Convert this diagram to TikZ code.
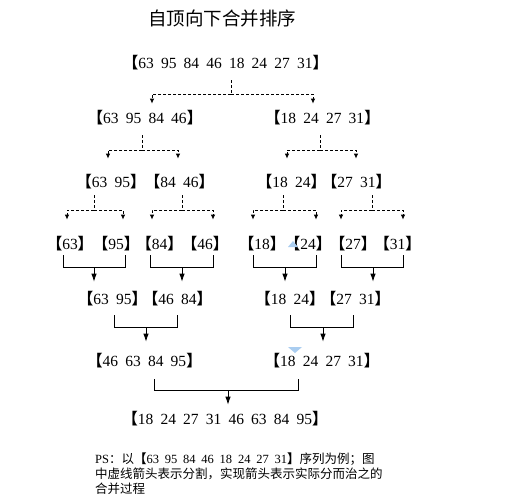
\documentclass[tikz,border=0pt]{standalone}
\usepackage{fontspec}
\setmainfont{Liberation Serif}
\newfontfamily\numf[WordSpace=1.85]{Liberation Serif}
\newfontfamily\cjk{Noto Sans CJK SC}
\usetikzlibrary{arrows.meta}
\newcommand\lb{{\cjk\bfseries 【}}
\newcommand\rb{{\cjk\bfseries 】}}
\definecolor{handle}{RGB}{170,205,240}
\tikzset{
  num/.style={font=\numf\fontsize{15.5}{16}\selectfont, inner sep=0pt, text height=10.2pt, text depth=0pt},
  pstext/.style={font=\fontsize{12.5}{13}\selectfont, inner sep=0pt, text height=10.6pt, text depth=1.2pt, anchor=west},
  dsh/.style={line width=0.9pt, dash pattern=on 3pt off 2pt},
  sarr/.style={-{Latex[length=5pt,width=4.5pt]}},
  mln/.style={line width=0.9pt},
  marr/.style={-{Latex[length=8pt,width=5.5pt]}},
}
% split connector: parent, stem dx, gap, length, left, left dx, right, right dx, tip gap
\newcommand\splitc[9]{%
  \draw[dsh] ([xshift=#2pt,yshift=-#3pt]#1.south) -- ++(0,#4) coordinate (tmpj);
  \draw[dsh,sarr] (tmpj) -| ([xshift=#6pt,yshift=#9pt]#5.north);
  \draw[dsh,sarr] (tmpj) -| ([xshift=#8pt,yshift=#9pt]#7.north);
}
% merge connector: left, left dx, right, right dx, gap, depth, target, target dx, tip gap
\newcommand\mergec[9]{%
  \draw[mln] ([xshift=#2pt,yshift=-#5pt]#1.south) -- ++(0,#6) coordinate (tmpb) -| ([xshift=#4pt,yshift=-#5pt]#3.south);
  \draw[mln,marr] ([xshift=#8pt]#7.north |- tmpb) -- ([xshift=#8pt,yshift=#9pt]#7.north);
}
\begin{document}
\begin{tikzpicture}[x=1pt,y=-1pt]
\useasboundingbox (0,0) rectangle (523,498);
\fill[white] (0,0) rectangle (523,498);

\node[font=\cjk\fontsize{18.5}{20}\selectfont, inner sep=0pt, text height=16pt, text depth=2pt] (title) at (222,18) {自顶向下合并排序};

\node[num] (r1) at (225.5,63) {\lb63 95 84 46 18 24 27 31\rb};

\node[num] (r2a) at (145,118) {\lb63 95 84 46\rb};
\node[num] (r2b) at (322.5,118) {\lb18 24 27 31\rb};

\node[num] (r3a) at (111,182) {\lb63 95\rb};
\node[num] (r3b) at (179.5,182) {\lb84 46\rb};
\node[num] (r3c) at (291.5,182) {\lb18 24\rb};
\node[num] (r3d) at (356.5,182) {\lb27 31\rb};

\node[num] (r4a) at (70,244) {\lb63\rb};
\node[num] (r4b) at (116,244) {\lb95\rb};
\node[num] (r4c) at (159.5,244) {\lb84\rb};
\node[num] (r4d) at (205,244) {\lb46\rb};
\node[num] (r4e) at (262,244) {\lb18\rb};
\node[num] (r4f) at (308,244) {\lb24\rb};
\node[num] (r4g) at (353,244) {\lb27\rb};
\node[num] (r4h) at (397.5,244) {\lb31\rb};

\node[num] (r5a) at (112.5,299) {\lb63 95\rb};
\node[num] (r5b) at (177.5,299) {\lb46 84\rb};
\node[num] (r5c) at (290,299) {\lb18 24\rb};
\node[num] (r5d) at (355.5,299) {\lb27 31\rb};

\node[num] (r6a) at (144.5,361) {\lb46 63 84 95\rb};
\node[num] (r6b) at (322,361) {\lb18 24 27 31\rb};

\node[num] (r7) at (225,419) {\lb18 24 27 31 46 63 84 95\rb};

\splitc{r1}{5.5}{12}{14}{r2a}{7}{r2b}{-9.5}{9}
\splitc{r2a}{-3}{12}{15}{r3a}{-3}{r3b}{-1.5}{18}
\splitc{r2b}{-2.5}{12}{15}{r3c}{-4.5}{r3d}{-0.5}{18}
\splitc{r3a}{-17}{8}{15}{r4a}{-3}{r4b}{7}{19}
\splitc{r3b}{2.5}{8}{15}{r4c}{-7.5}{r4d}{8}{19}
\splitc{r3c}{-8.5}{8}{15}{r4e}{-9}{r4f}{8}{19}
\splitc{r3d}{15.5}{8}{15}{r4g}{-12}{r4h}{5.5}{19}

\mergec{r4a}{-7}{r4b}{9}{6}{12}{r5a}{-18.5}{12}
\mergec{r4c}{-9.5}{r4d}{8}{6}{12}{r5b}{4.5}{12}
\mergec{r4e}{-9}{r4f}{8}{6}{12}{r5c}{-5}{12}
\mergec{r4g}{-12}{r4h}{5.5}{6}{12}{r5d}{17.5}{12}
\mergec{r5a}{1.5}{r5b}{-0.5}{11}{12}{r6a}{1.5}{14}
\mergec{r5c}{0}{r5d}{-2.5}{11}{12}{r6b}{1}{14}
\mergec{r6a}{9.5}{r6b}{-24}{13}{11}{r7}{3}{9}

% selection handles visible in the reference
\fill[handle] (293,241) -- (298,247) -- (288,247) -- cycle;
\fill[handle] (288,347) -- (302,347) -- (295,353) -- cycle;

\node[pstext] (ps1) at (95,459) {{\numf PS}{\cjk ：以}\lb{\numf 63 95 84 46 18 24 27 31}\rb{\cjk 序列为例；图}};
\node[pstext] (ps2) at (95,474) {{\cjk 中虚线箭头表示分割，实现箭头表示实际分而治之的}};
\node[pstext] (ps3) at (95,489) {{\cjk 合并过程}};
\end{tikzpicture}
\end{document}
